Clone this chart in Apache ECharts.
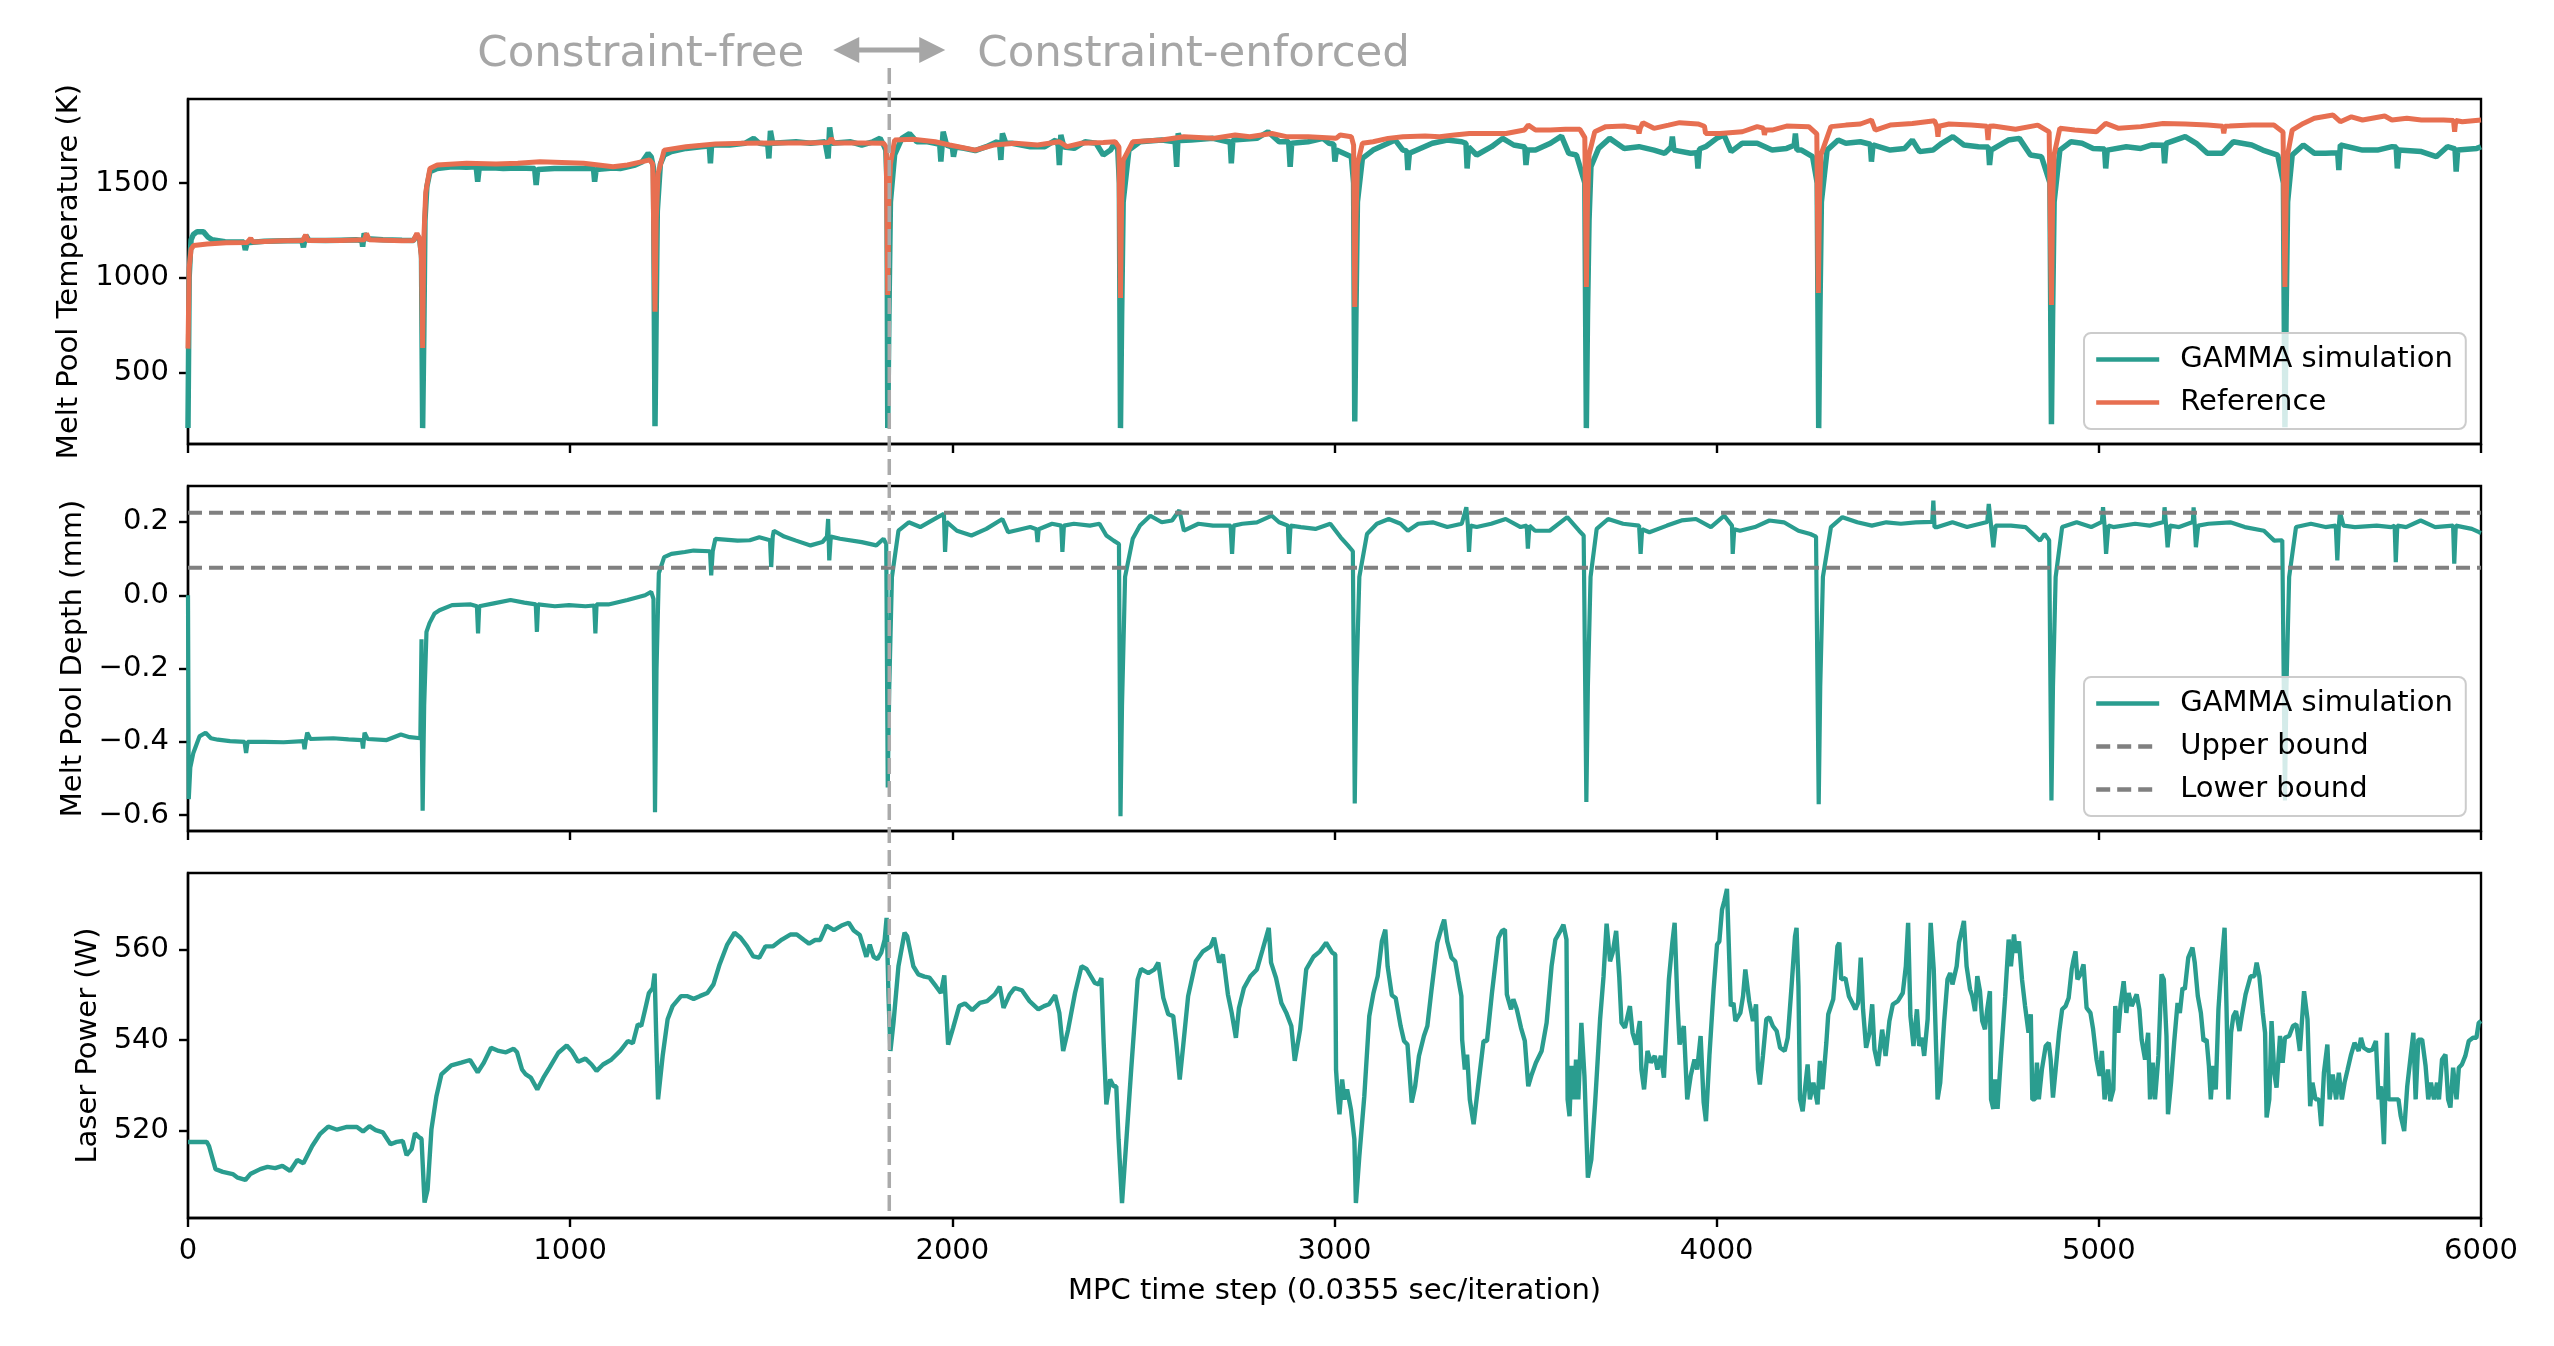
<!DOCTYPE html>
<html>
<head>
<meta charset="utf-8">
<script src="https://cdn.jsdelivr.net/npm/echarts@6/dist/echarts.min.js"></script>
<style>
  html, body { margin: 0; padding: 0; background: #fff; }
  #chart { width: 2554px; height: 1346px; }
</style>
</head>
<body>
<div id="chart"></div>
<script>
// x position where the constraints are switched on
const switchStep = 1835;
const upperBound = 0.225;
const lowerBound = 0.075;

const stepTicks = [0, 1000, 2000, 3000, 4000, 5000, 6000];
const tempTicks = [500, 1000, 1500];
const depthTicks = [-0.6, -0.4, -0.2, 0.0, 0.2];
const powerTicks = [520, 540, 560];

// melt pool temperature, GAMMA simulation (K)
const tempGamma = [[0,205],[3,1000],[8,1200],[14,1228],[24,1243],[40,1243],[52,1215],[63,1200],[97,1190],[146,1188],[150,1146],[155,1185],[200,1192],[260,1195],[298,1196],[302,1160],[308,1225],[316,1198],[360,1196],[400,1198],[440,1200],[455,1196],[457,1164],[461,1234],[468,1205],[510,1200],[560,1197],[590,1196],[599,1225],[606,1205],[611,1120],[614,205],[617,700],[620,1300],[625,1480],[633,1560],[652,1577],[691,1586],[729,1583],[754,1586],[758,1507],[762,1580],[806,1580],[825,1577],[863,1580],[907,1577],[911,1489],[915,1572],[959,1577],[978,1577],[1035,1577],[1061,1577],[1064,1507],[1068,1572],[1112,1580],[1131,1577],[1170,1595],[1189,1613],[1204,1657],[1212,1639],[1218,1580],[1222,215],[1225,800],[1228,1350],[1236,1600],[1246,1648],[1265,1666],[1303,1683],[1342,1692],[1364,1695],[1367,1604],[1370,1701],[1418,1701],[1457,1710],[1480,1736],[1495,1710],[1517,1705],[1520,1630],[1524,1776],[1530,1710],[1591,1718],[1629,1710],[1667,1718],[1675,1630],[1679,1794],[1685,1710],[1734,1718],[1763,1701],[1792,1718],[1811,1736],[1820,1701],[1826,1674],[1829,1500],[1831,205],[1834,800],[1838,1400],[1849,1650],[1868,1736],[1888,1762],[1907,1718],[1935,1718],[1955,1710],[1967,1705],[1970,1613],[1976,1771],[1985,1700],[2000,1690],[2003,1639],[2008,1690],[2031,1683],[2060,1671],[2089,1692],[2117,1718],[2124,1700],[2127,1622],[2131,1762],[2140,1710],[2156,1710],[2204,1692],[2242,1692],[2270,1727],[2277,1700],[2280,1595],[2284,1754],[2292,1690],[2319,1683],[2347,1718],[2376,1710],[2395,1648],[2414,1674],[2426,1718],[2433,1674],[2437,1500],[2440,205],[2443,800],[2447,1400],[2462,1674],[2491,1718],[2548,1727],[2583,1718],[2587,1586],[2591,1762],[2598,1725],[2625,1727],[2682,1736],[2721,1718],[2727,1718],[2730,1604],[2734,1727],[2797,1736],[2826,1771],[2855,1718],[2880,1718],[2884,1586],[2888,1710],[2931,1718],[2970,1736],[2986,1710],[2998,1705],[3001,1613],[3005,1674],[3024,1657],[3044,1639],[3050,1500],[3053,240],[3056,800],[3060,1400],[3073,1630],[3101,1674],[3140,1710],[3159,1727],[3179,1674],[3189,1670],[3192,1569],[3196,1657],[3256,1710],[3295,1727],[3333,1718],[3344,1710],[3347,1577],[3351,1690],[3372,1648],[3411,1692],[3440,1736],[3469,1701],[3498,1690],[3501,1595],[3505,1674],[3526,1674],[3565,1710],[3594,1748],[3613,1657],[3633,1648],[3655,1500],[3659,205],[3662,800],[3666,1300],[3671,1586],[3691,1683],[3720,1736],[3758,1683],[3797,1692],[3836,1674],[3864,1657],[3881,1690],[3884,1745],[3888,1674],[3932,1657],[3948,1660],[3951,1577],[3955,1680],[3971,1692],[4000,1736],[4019,1754],[4038,1666],[4067,1710],[4106,1710],[4145,1674],[4183,1683],[4203,1700],[4206,1762],[4210,1674],[4222,1674],[4251,1639],[4263,1500],[4267,205],[4270,800],[4274,1400],[4289,1674],[4318,1727],[4338,1710],[4376,1718],[4402,1705],[4405,1613],[4409,1701],[4454,1674],[4492,1683],[4512,1727],[4531,1666],[4566,1674],[4589,1710],[4618,1745],[4647,1701],[4685,1692],[4711,1690],[4714,1595],[4718,1674],[4763,1727],[4792,1736],[4821,1648],[4850,1639],[4872,1500],[4876,225],[4879,800],[4883,1400],[4898,1674],[4927,1718],[4956,1710],[4985,1683],[5015,1680],[5018,1577],[5022,1674],[5072,1692],[5110,1683],[5139,1701],[5169,1700],[5172,1604],[5176,1710],[5226,1745],[5255,1710],[5284,1657],[5323,1657],[5352,1718],[5400,1701],[5429,1674],[5468,1648],[5483,1500],[5487,210],[5490,800],[5494,1400],[5506,1648],[5535,1701],[5564,1657],[5593,1657],[5625,1660],[5628,1569],[5632,1701],[5690,1674],[5729,1674],[5767,1692],[5778,1690],[5781,1577],[5785,1674],[5844,1666],[5883,1639],[5912,1692],[5932,1680],[5935,1560],[5939,1674],[5989,1683],[6000,1692]];

// melt pool temperature, reference trajectory (K)
const tempRef = [[0,625],[3,1050],[8,1150],[15,1170],[50,1178],[100,1185],[155,1186],[160,1195],[164,1208],[170,1188],[250,1195],[300,1196],[304,1200],[308,1225],[314,1196],[400,1196],[462,1200],[467,1234],[474,1200],[560,1195],[590,1196],[599,1234],[606,1205],[611,1100],[614,628],[617,1200],[622,1450],[633,1577],[652,1595],[729,1604],[806,1601],[863,1604],[921,1613],[959,1610],[1035,1604],[1074,1595],[1112,1586],[1150,1595],[1189,1613],[1208,1622],[1216,1600],[1222,820],[1225,1300],[1230,1550],[1246,1674],[1303,1692],[1380,1706],[1457,1710],[1533,1712],[1610,1712],[1677,1714],[1683,1736],[1690,1712],[1763,1712],[1820,1710],[1827,1690],[1831,908],[1834,1400],[1838,1600],[1849,1727],[1897,1731],[1955,1718],[1993,1701],[2060,1674],[2108,1701],[2165,1710],[2223,1701],[2280,1718],[2300,1692],[2338,1710],[2395,1714],[2426,1718],[2436,1690],[2440,892],[2443,1400],[2447,1620],[2472,1718],[2548,1727],[2606,1745],[2682,1736],[2740,1754],[2778,1745],[2836,1762],[2874,1745],[2931,1745],[3004,1736],[3015,1754],[3044,1745],[3050,1700],[3053,845],[3056,1300],[3060,1600],[3073,1710],[3101,1718],[3140,1736],[3179,1745],[3237,1748],[3275,1745],[3314,1754],[3353,1762],[3449,1762],[3497,1780],[3507,1806],[3526,1780],[3565,1780],[3604,1784],[3642,1784],[3655,1740],[3659,951],[3662,1400],[3666,1650],[3681,1771],[3710,1798],[3758,1801],[3794,1790],[3797,1762],[3800,1790],[3807,1819],[3836,1789],[3874,1806],[3903,1819],[3951,1812],[3968,1800],[3971,1762],[4009,1762],[4067,1771],[4106,1798],[4122,1790],[4125,1754],[4128,1780],[4145,1780],[4183,1801],[4241,1798],[4262,1760],[4266,919],[4269,1400],[4273,1650],[4299,1798],[4338,1806],[4376,1812],[4405,1833],[4415,1780],[4454,1806],[4512,1815],[4570,1829],[4576,1800],[4579,1745],[4582,1800],[4608,1812],[4666,1806],[4707,1800],[4710,1727],[4713,1800],[4724,1801],[4782,1784],[4840,1806],[4870,1770],[4876,855],[4879,1400],[4883,1650],[4898,1789],[4937,1780],[4994,1771],[5018,1815],[5052,1789],[5110,1798],[5168,1815],[5226,1812],[5284,1806],[5324,1800],[5327,1762],[5330,1800],[5342,1801],[5400,1806],[5458,1806],[5482,1770],[5487,951],[5490,1400],[5494,1650],[5506,1780],[5535,1815],[5564,1842],[5613,1859],[5632,1824],[5661,1850],[5690,1833],[5748,1854],[5767,1833],[5806,1842],[5844,1833],[5902,1833],[5928,1830],[5931,1771],[5934,1830],[5951,1824],[6000,1833]];

// melt pool depth, GAMMA simulation (mm)
const depthGamma = [[0,0.0],[2,-0.556],[6,-0.47],[14,-0.43],[30,-0.385],[46,-0.375],[60,-0.39],[78,-0.394],[110,-0.398],[148,-0.4],[152,-0.43],[156,-0.4],[200,-0.4],[250,-0.401],[302,-0.398],[305,-0.42],[308,-0.398],[312,-0.375],[320,-0.392],[380,-0.39],[420,-0.393],[455,-0.395],[458,-0.418],[462,-0.375],[470,-0.392],[520,-0.395],[557,-0.38],[580,-0.387],[608,-0.39],[611,-0.12],[612,-0.39],[614,-0.588],[618,-0.3],[624,-0.1],[632,-0.076],[645,-0.05],[658,-0.041],[691,-0.027],[740,-0.025],[756,-0.03],[759,-0.104],[762,-0.03],[800,-0.022],[844,-0.013],[880,-0.02],[910,-0.025],[913,-0.1],[916,-0.025],[960,-0.03],[997,-0.027],[1040,-0.03],[1063,-0.028],[1066,-0.104],[1069,-0.025],[1100,-0.025],[1150,-0.013],[1196,0.0],[1212,0.009],[1218,-0.01],[1222,-0.592],[1226,-0.2],[1232,0.06],[1246,0.104],[1265,0.113],[1300,0.118],[1323,0.122],[1366,0.12],[1369,0.054],[1373,0.12],[1380,0.154],[1438,0.149],[1470,0.15],[1495,0.158],[1523,0.15],[1526,0.077],[1530,0.16],[1533,0.176],[1560,0.16],[1591,0.149],[1629,0.136],[1660,0.145],[1672,0.16],[1675,0.208],[1678,0.095],[1682,0.16],[1706,0.154],[1763,0.145],[1801,0.136],[1820,0.154],[1827,0.14],[1831,-0.524],[1835,-0.25],[1842,0.05],[1859,0.176],[1886,0.199],[1916,0.186],[1962,0.213],[1978,0.222],[1981,0.118],[1985,0.2],[2012,0.176],[2050,0.163],[2089,0.181],[2131,0.208],[2146,0.172],[2204,0.186],[2220,0.18],[2223,0.145],[2226,0.18],[2261,0.195],[2285,0.19],[2288,0.118],[2292,0.19],[2318,0.195],[2360,0.19],[2385,0.195],[2403,0.163],[2422,0.149],[2436,0.14],[2440,-0.603],[2444,-0.3],[2452,0.05],[2472,0.154],[2491,0.19],[2518,0.217],[2548,0.199],[2575,0.204],[2594,0.232],[2606,0.176],[2644,0.195],[2682,0.19],[2728,0.19],[2732,0.113],[2736,0.19],[2759,0.195],[2797,0.199],[2836,0.217],[2855,0.199],[2878,0.19],[2881,0.113],[2885,0.19],[2912,0.186],[2950,0.181],[2989,0.195],[3016,0.158],[3035,0.136],[3048,0.12],[3053,-0.568],[3057,-0.25],[3065,0.05],[3085,0.167],[3111,0.195],[3142,0.208],[3173,0.195],[3192,0.176],[3219,0.195],[3257,0.199],[3295,0.186],[3333,0.195],[3345,0.24],[3349,0.19],[3352,0.118],[3356,0.19],[3372,0.186],[3410,0.195],[3448,0.208],[3487,0.186],[3503,0.19],[3506,0.127],[3510,0.19],[3525,0.176],[3563,0.176],[3609,0.213],[3640,0.176],[3652,0.163],[3659,-0.564],[3663,-0.25],[3670,0.05],[3686,0.181],[3716,0.208],[3755,0.195],[3797,0.19],[3801,0.113],[3805,0.18],[3824,0.172],[3870,0.19],[3908,0.204],[3946,0.208],[3985,0.186],[4020,0.217],[4040,0.19],[4042,0.113],[4046,0.18],[4061,0.176],[4100,0.186],[4138,0.204],[4176,0.199],[4214,0.176],[4245,0.167],[4260,0.16],[4267,-0.57],[4271,-0.25],[4278,0.05],[4299,0.186],[4329,0.213],[4368,0.199],[4406,0.19],[4444,0.199],[4482,0.195],[4521,0.199],[4564,0.2],[4567,0.258],[4570,0.186],[4578,0.186],[4617,0.199],[4655,0.186],[4708,0.2],[4712,0.249],[4718,0.19],[4724,0.131],[4730,0.19],[4770,0.19],[4808,0.186],[4846,0.149],[4858,0.167],[4870,0.15],[4876,-0.56],[4880,-0.25],[4887,0.05],[4904,0.186],[4942,0.199],[4980,0.186],[5008,0.2],[5011,0.24],[5015,0.19],[5019,0.113],[5025,0.19],[5038,0.186],[5095,0.195],[5133,0.19],[5170,0.2],[5172,0.24],[5176,0.19],[5180,0.131],[5186,0.19],[5210,0.186],[5246,0.2],[5248,0.24],[5251,0.19],[5254,0.131],[5260,0.19],[5287,0.195],[5344,0.199],[5382,0.186],[5432,0.176],[5459,0.149],[5480,0.15],[5487,-0.56],[5491,-0.25],[5498,0.05],[5516,0.186],[5555,0.195],[5593,0.186],[5620,0.19],[5624,0.095],[5628,0.19],[5631,0.226],[5640,0.19],[5670,0.186],[5727,0.19],[5765,0.186],[5774,0.19],[5777,0.09],[5781,0.19],[5804,0.186],[5842,0.204],[5880,0.186],[5927,0.19],[5930,0.086],[5934,0.19],[5938,0.195],[5976,0.181],[5995,0.172],[6000,0.17]];

// laser power command (W)
const laserPower = [[0,517.5],[49,517.5],[55,516.6],[72,511.5],[91,510.9],[117,510.4],[130,509.6],[150,509.1],[163,510.4],[189,511.5],[208,512],[228,511.7],[247,512.2],[267,511.1],[286,513.5],[302,512.8],[325,516.6],[345,519.2],[367,520.9],[390,520.2],[416,520.8],[442,520.8],[458,519.8],[475,521],[491,520.1],[510,519.6],[530,517],[546,517.5],[562,517.7],[572,514.6],[585,515.9],[594,519.4],[605,518.5],[611,518.2],[619,504.1],[627,507],[637,520.3],[650,527.6],[663,532.4],[689,534.4],[715,535],[738,535.6],[758,532.9],[774,535],[793,538.3],[813,537.6],[832,537.3],[852,538.1],[861,537.3],[874,533.5],[884,532.4],[897,531.7],[914,529.1],[930,531.7],[946,533.9],[969,537.2],[991,538.8],[1004,537.6],[1021,535.2],[1040,535.9],[1056,534.6],[1069,533.2],[1086,534.6],[1108,535.7],[1131,537.6],[1151,539.8],[1164,539.3],[1177,543.5],[1186,543.1],[1196,546.7],[1206,550.4],[1216,551.5],[1221,554.7],[1225,541.6],[1230,526.9],[1242,536.5],[1255,544.6],[1268,547.5],[1290,549.7],[1307,549.7],[1323,549.1],[1339,549.7],[1359,550.4],[1375,552.3],[1391,556.7],[1411,561.1],[1430,563.7],[1446,562.6],[1463,560.7],[1479,558.5],[1495,558.2],[1511,560.7],[1531,560.7],[1554,562.2],[1576,563.3],[1593,563.3],[1612,562.1],[1625,561.3],[1641,562.1],[1654,562.1],[1671,565.3],[1690,564.3],[1710,565.3],[1729,565.9],[1742,564.2],[1758,563.2],[1775,558.4],[1784,561.1],[1794,558.4],[1804,557.9],[1814,559.3],[1823,562.2],[1828,567],[1833,549.7],[1838,537.6],[1846,543.8],[1859,556.3],[1875,563.7],[1882,562.9],[1898,556.3],[1911,554.5],[1927,554],[1940,553.8],[1957,551.9],[1970,550.4],[1979,554.3],[1989,539],[2002,542.7],[2018,547.5],[2033,548.1],[2052,546.6],[2072,548.2],[2091,548.6],[2111,550.1],[2124,551.8],[2134,547.1],[2150,550.1],[2163,551.5],[2182,551],[2202,548.6],[2225,546.8],[2240,547.5],[2253,547.9],[2269,549.9],[2280,546],[2290,537.6],[2303,542.3],[2321,550.4],[2338,556.3],[2351,555.7],[2373,552.6],[2383,552.3],[2390,553.7],[2396,539.4],[2403,525.8],[2413,531.3],[2422,529.8],[2429,529.8],[2435,518.1],[2444,504],[2455,517.4],[2468,533.5],[2485,553.4],[2494,555.7],[2513,554.8],[2529,555.6],[2539,557.1],[2552,549.3],[2565,545.7],[2578,545.3],[2586,539.4],[2595,531.3],[2604,538.7],[2617,549.7],[2637,557.4],[2656,559.6],[2676,560.7],[2685,562.6],[2698,557.1],[2708,558.9],[2721,550.1],[2731,546],[2742,540.5],[2750,547.1],[2763,551.5],[2780,554.1],[2797,555.6],[2812,560],[2828,564.8],[2834,557.1],[2847,553.7],[2861,548.2],[2874,546],[2887,543.1],[2896,535.4],[2910,542.3],[2926,555.6],[2945,558.4],[2962,559.6],[2978,561.5],[2994,559.3],[3002,558.9],[3004,533.5],[3009,526.9],[3013,523.6],[3020,531.3],[3026,526.9],[3033,529.1],[3043,524.7],[3052,518.1],[3056,504],[3065,514.4],[3078,527.6],[3091,545.3],[3102,550.4],[3113,554.1],[3124,561.8],[3133,564.4],[3139,556.3],[3150,549.9],[3160,549.3],[3173,543.1],[3182,539.8],[3191,539],[3202,526.2],[3211,529.8],[3221,536.5],[3234,540.9],[3243,543.1],[3254,551.2],[3269,561.5],[3280,564.8],[3287,566.6],[3295,561.8],[3306,558.2],[3316,557.4],[3325,553],[3332,549.7],[3334,540.1],[3341,533.5],[3347,536.8],[3354,526.9],[3364,521.4],[3377,530.6],[3390,539.8],[3399,539.8],[3412,550.4],[3429,562.6],[3438,564.1],[3446,564.4],[3451,550.1],[3462,546.8],[3468,549],[3477,546.8],[3488,542.7],[3498,539.8],[3507,529.8],[3516,532.4],[3527,535],[3542,537.6],[3555,543.8],[3568,556.3],[3578,562.2],[3591,564.1],[3599,565.5],[3607,562.2],[3610,526.9],[3615,523.2],[3620,534.3],[3627,526.9],[3632,535.7],[3638,526.9],[3646,543.8],[3654,532.1],[3663,509.6],[3672,513.6],[3682,526.2],[3695,544.6],[3704,554.1],[3712,565.7],[3721,557.4],[3728,559.3],[3737,564.1],[3745,554.1],[3751,543.8],[3760,542.7],[3767,545.3],[3773,547.5],[3780,541.6],[3789,539],[3799,544.2],[3803,533.5],[3810,529.1],[3819,537.6],[3828,535],[3838,536.5],[3845,533.5],[3854,536.5],[3862,531.7],[3875,553.4],[3884,561.5],[3890,565.9],[3897,549],[3903,539],[3914,543.1],[3923,526.9],[3932,532.1],[3942,535.7],[3949,533.5],[3958,540.9],[3966,526.2],[3972,522.1],[3981,536.5],[3992,551.2],[4001,561.1],[4007,561.8],[4014,568.8],[4020,570.7],[4027,573.4],[4033,557.8],[4037,547.5],[4044,548.2],[4049,544.2],[4062,546],[4069,549.7],[4075,555.6],[4085,548.6],[4095,544.2],[4103,547.9],[4108,533.5],[4113,530.2],[4121,536.5],[4130,544.6],[4138,545],[4147,543.1],[4157,542],[4166,538.3],[4178,537.6],[4186,540.5],[4196,551.9],[4205,562.9],[4209,564.8],[4214,551.9],[4218,526.9],[4225,524.3],[4231,529.1],[4238,534.6],[4244,526.9],[4253,530.6],[4264,525.8],[4270,535.4],[4277,529.1],[4287,539.4],[4292,545.7],[4305,549],[4316,560.7],[4321,561.5],[4326,553.4],[4337,553.7],[4346,549.7],[4355,548.2],[4363,546.8],[4370,548.2],[4377,558.2],[4383,546.8],[4391,538.3],[4400,541.6],[4407,547.9],[4413,537.9],[4422,534.3],[4433,542.3],[4442,536.5],[4452,544.2],[4461,547.9],[4474,548.6],[4487,550.4],[4495,556.3],[4501,565.9],[4507,545.3],[4515,538.7],[4524,546.8],[4530,538.7],[4537,540.5],[4543,536.5],[4552,544.6],[4560,565.9],[4568,555.6],[4576,533.5],[4578,526.9],[4585,530.6],[4595,543.8],[4604,553.4],[4611,554.8],[4617,552.3],[4628,556.3],[4634,561.5],[4643,564.8],[4647,566.3],[4654,556.3],[4663,551.2],[4669,549.7],[4676,546.4],[4682,554.1],[4689,550.8],[4695,544.2],[4702,542.4],[4708,546.8],[4715,550.8],[4718,526.9],[4724,524.8],[4729,531.3],[4735,524.8],[4744,536.5],[4755,549.7],[4764,562.2],[4770,556.3],[4778,563.3],[4783,559.3],[4791,561.8],[4799,553.4],[4807,547.5],[4816,541.6],[4822,545.7],[4826,526.9],[4833,526.9],[4838,535],[4843,526.9],[4851,533.5],[4861,538.7],[4869,539.4],[4874,535.7],[4880,527.3],[4887,533.5],[4896,541.6],[4904,546.8],[4913,547.5],[4921,549.3],[4929,555.6],[4934,557.8],[4939,559.6],[4944,553.4],[4952,554.5],[4960,556.7],[4968,547.1],[4978,546],[4985,542.4],[4994,535.7],[5002,532.1],[5008,537.6],[5015,526.9],[5024,533.5],[5030,526.5],[5038,529.1],[5043,547.5],[5051,541.6],[5057,547.9],[5065,553],[5072,546],[5078,550.4],[5086,547.5],[5099,550.1],[5106,546.8],[5112,540.1],[5121,535.7],[5129,541.6],[5134,526.9],[5141,535],[5147,526.9],[5156,536.5],[5164,554.5],[5170,553.4],[5177,540.9],[5181,523.6],[5189,530.6],[5197,539.4],[5206,548.2],[5212,546],[5219,551.5],[5225,551.2],[5234,558.2],[5245,560.4],[5251,557.1],[5259,549.7],[5267,546],[5274,539.8],[5282,540.1],[5288,534.3],[5293,526.9],[5299,534.3],[5306,529.1],[5313,546.8],[5320,555.6],[5329,564.8],[5334,547.5],[5339,526.9],[5346,541.6],[5352,545.3],[5359,546.4],[5368,542],[5374,545.3],[5384,550.1],[5397,554.1],[5407,554.1],[5413,557.1],[5420,554.1],[5429,546],[5435,541.6],[5439,522.9],[5446,526.9],[5452,544.2],[5459,532.8],[5465,529.5],[5474,540.9],[5481,535],[5487,540.5],[5498,540.9],[5508,543.1],[5517,543.5],[5526,537.6],[5537,550.8],[5546,544.6],[5553,525.4],[5559,530.6],[5567,526.9],[5576,526.9],[5582,521],[5589,532.8],[5598,539],[5604,526.9],[5612,532.4],[5621,526.9],[5628,532.8],[5636,526.9],[5643,530.6],[5651,533.5],[5660,536.8],[5669,539.4],[5680,537.6],[5686,540.5],[5693,538.3],[5706,537.6],[5716,537.9],[5725,539.8],[5732,526.9],[5738,529.8],[5746,517],[5754,541.6],[5758,526.9],[5771,526.9],[5784,526.9],[5790,523.2],[5799,519.9],[5807,529.8],[5816,536.5],[5823,541.6],[5829,526.9],[5836,540.1],[5846,540.1],[5855,534.3],[5862,526.9],[5869,530.6],[5877,526.9],[5885,530.6],[5890,526.9],[5898,535.7],[5907,536.8],[5914,526.9],[5920,525.1],[5927,533.9],[5936,526.9],[5942,533.9],[5950,534.6],[5959,536.5],[5968,539.8],[5979,540.5],[5988,540.5],[5994,543.8],[6000,544.2]];

const FONT = 'DejaVu Sans';
const TEAL = '#2a9d8f';
const ORANGE = '#e76f51';
const BOUND_GRAY = '#808080';
const NOTE_GRAY = '#a6a6a6';

const chart = echarts.init(document.getElementById('chart'));

const gridTops = [99, 486, 873];
const gridHeight = 345;

function makeGrid(top) {
  return {
    left: 188, right: 73, top: top, height: gridHeight,
    show: true, borderColor: '#000', borderWidth: 2.4,
    backgroundColor: 'transparent', containLabel: false, outerBoundsMode: 'none'
  };
}

function makeXAxis(i, withLabels) {
  return {
    type: 'value', gridIndex: i, min: 0, max: 6000,
    axisLine: {show: true, onZero: false, lineStyle: {color: '#000', width: 2.4}},
    axisTick: {show: true, inside: false, length: 9, lineStyle: {color: '#000', width: 2.4},
      customValues: stepTicks},
    axisLabel: {show: withLabels, margin: 19, color: '#000', fontFamily: FONT, fontSize: 29,
      customValues: stepTicks, formatter: v => String(v)},
    splitLine: {show: false},
    name: withLabels ? 'MPC time step (0.0355 sec/iteration)' : '',
    nameLocation: 'middle', nameGap: 59,
    nameTextStyle: {color: '#000', fontFamily: FONT, fontSize: 29}
  };
}

function makeYAxis(i, name, min, max, ticks, fmt, gap) {
  return {
    type: 'value', gridIndex: i, min: min, max: max,
    axisLine: {show: true, onZero: false, lineStyle: {color: '#000', width: 2.4}},
    axisTick: {show: true, inside: false, length: 9, lineStyle: {color: '#000', width: 2.4},
      customValues: ticks},
    axisLabel: {margin: 19, color: '#000', fontFamily: FONT, fontSize: 29,
      customValues: ticks, formatter: fmt},
    splitLine: {show: false},
    name: name, nameLocation: 'middle', nameRotate: 90, nameGap: gap,
    nameTextStyle: {color: '#000', fontFamily: FONT, fontSize: 29}
  };
}

const minusFmt = v => (v < -1e-9 ? '\u2212' : '') + Math.abs(v).toFixed(1);

function lineSeries(name, data, color, width, axis, extra) {
  return Object.assign({
    name: name, type: 'line', data: data,
    xAxisIndex: axis, yAxisIndex: axis,
    symbol: 'none', showSymbol: false, silent: true,
    lineStyle: {color: color, width: width},
    itemStyle: {color: color},
    emphasis: {disabled: true}
  }, extra || {});
}

const legendBase = {
  orient: 'vertical', left: 2084, itemWidth: 63, itemHeight: 14, itemGap: 14,
  padding: [12, 13, 12, 10],
  backgroundColor: 'rgba(255,255,255,0.8)', borderColor: '#cccccc', borderWidth: 2, borderRadius: 7,
  selectedMode: false,
  // hide the marker dot that ECharts puts in the middle of a line legend icon
  itemStyle: {opacity: 0, borderWidth: 0},
  lineStyle: {width: 4.4},
  textStyle: {color: '#000', fontFamily: FONT, fontSize: 29, lineHeight: 29, padding: [0, 0, 0, 16]}
};

chart.setOption({
  animation: false,
  backgroundColor: '#fff',
  grid: gridTops.map(makeGrid),
  xAxis: [makeXAxis(0, false), makeXAxis(1, false), makeXAxis(2, true)],
  yAxis: [
    makeYAxis(0, 'Melt Pool Temperature (K)', 121, 1944, tempTicks, v => String(v), 104),
    makeYAxis(1, 'Melt Pool Depth (mm)', -0.643, 0.298, depthTicks, minusFmt, 100),
    makeYAxis(2, 'Laser Power (W)', 500.7, 576.9, powerTicks, v => String(v), 85)
  ],
  legend: [
    Object.assign({}, legendBase, {top: 333, data: ['GAMMA simulation', 'Reference']}),
    Object.assign({}, legendBase, {top: 677, data: ['GAMMA simulation', 'Upper bound', 'Lower bound']})
  ],
  series: [
    lineSeries('GAMMA simulation', tempGamma, TEAL, 5.5, 0, {z: 2}),
    lineSeries('Reference', tempRef, ORANGE, 5, 0, {z: 3}),
    lineSeries('GAMMA simulation', depthGamma, TEAL, 4.2, 1, {z: 2}),
    lineSeries('Upper bound', [[0, upperBound], [6000, upperBound]], BOUND_GRAY, 4, 1,
      {z: 3, lineStyle: {color: BOUND_GRAY, width: 4, type: [14, 7]}}),
    lineSeries('Lower bound', [[0, lowerBound], [6000, lowerBound]], BOUND_GRAY, 4, 1,
      {z: 3, lineStyle: {color: BOUND_GRAY, width: 4, type: [14, 7]}}),
    lineSeries('Laser power', laserPower, TEAL, 4.4, 2, {z: 2})
  ]
});

// switch marker: dashed line through all panels, arrow and captions above
const sx = chart.convertToPixel({xAxisIndex: 0}, switchStep);
const yBottom = chart.convertToPixel({yAxisIndex: 2}, 500.7);
const ay = 50;
const ty = 55;
chart.setOption({
  graphic: [
    {type: 'line', z: 100, silent: true,
      shape: {x1: sx, y1: 68, x2: sx, y2: yBottom},
      style: {stroke: '#aaaaaa', lineWidth: 3.5, lineDash: [16, 7]}},
    {type: 'line', z: 100, silent: true,
      shape: {x1: sx - 40, y1: ay, x2: sx + 40, y2: ay},
      style: {stroke: NOTE_GRAY, lineWidth: 5}},
    {type: 'polygon', z: 100, silent: true,
      shape: {points: [[sx - 56, ay], [sx - 30, ay - 13], [sx - 30, ay + 13]]},
      style: {fill: NOTE_GRAY}},
    {type: 'polygon', z: 100, silent: true,
      shape: {points: [[sx + 56, ay], [sx + 30, ay - 13], [sx + 30, ay + 13]]},
      style: {fill: NOTE_GRAY}},
    {type: 'text', z: 100, silent: true,
      style: {text: 'Constraint-free', x: sx - 85, y: ty, align: 'right', verticalAlign: 'middle',
        textAlign: 'right', textVerticalAlign: 'middle',
        font: '43.5px "DejaVu Sans"', fill: NOTE_GRAY}},
    {type: 'text', z: 100, silent: true,
      style: {text: 'Constraint-enforced', x: sx + 88, y: ty, align: 'left', verticalAlign: 'middle',
        textAlign: 'left', textVerticalAlign: 'middle',
        font: '43.5px "DejaVu Sans"', fill: NOTE_GRAY}}
  ]
});
</script>
</body>
</html>
